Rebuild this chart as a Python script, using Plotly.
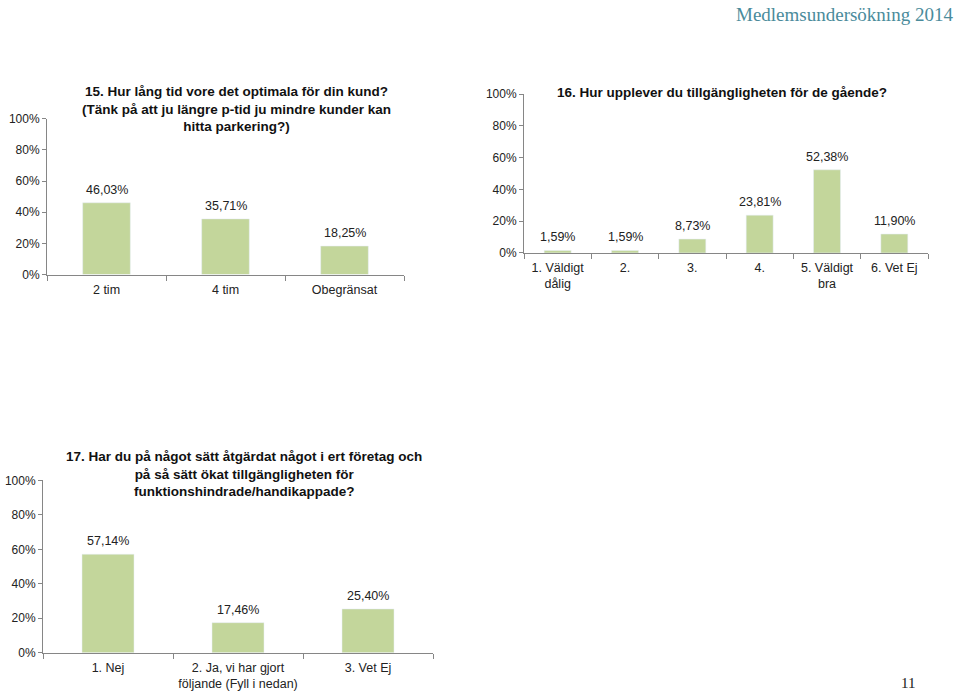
import plotly.graph_objects as go

W, H = 960, 698
BAR = "#c3d69b"
AXIS = "#868686"
FONT = "Liberation Sans, Arial, sans-serif"

# --- data
q15_title = "15. Hur lång tid vore det optimala för din kund?<br>(Tänk på att ju längre p-tid ju mindre kunder kan<br>hitta parkering?)"
q15_cats = ["2 tim", "4 tim", "Obegränsat"]
q15_vals = [46.03, 35.71, 18.25]

q16_title = "16. Hur upplever du tillgängligheten för de gående?"
q16_cats = ["1. Väldigt<br>dålig", "2.", "3.", "4.", "5. Väldigt<br>bra", "6. Vet Ej"]
q16_vals = [1.59, 1.59, 8.73, 23.81, 52.38, 11.90]

q17_title = "17. Har du på något sätt åtgärdat något i ert företag och<br>på så sätt ökat tillgängligheten för<br>funktionshindrade/handikappade?"
q17_cats = ["1. Nej", "2. Ja, vi har gjort<br>följande (Fyll i nedan)", "3. Vet Ej"]
q17_vals = [57.14, 17.46, 25.40]


def px_x(a, b):
    return [a / W, b / W]


def px_y(top, bottom):
    return [1 - bottom / H, 1 - top / H]


def pct(v):
    return f"{v:.2f}".replace(".", ",") + "%"


# pixel boxes of the plot areas: (left, right, top(100%), bottom(0%)) and title centre
panels = [
    (q15_title, q15_cats, q15_vals, (47, 404, 114, 273), (236, 104), 1),
    (q16_title, q16_cats, q16_vals, (524, 928, 89, 251), (722, 87), 2),
    (q17_title, q17_cats, q17_vals, (43, 433, 483, 659), (244, 477), 3),
]

fig = go.Figure()
layout = {}
for title, cats, vals, (l, r, t, b), (cx, cy), i in panels:
    sfx = "" if i == 1 else str(i)
    fig.add_trace(go.Bar(
        x=cats, y=vals, marker_color=BAR, width=0.4,
        xaxis="x" + sfx, yaxis="y" + sfx, hoverinfo="skip"))
    # value labels above the bars (category index, since "2." would parse as a number)
    for j, v in enumerate(vals):
        fig.add_annotation(x=j, y=v, xref="x" + sfx, yref="y" + sfx, text=pct(v),
                           showarrow=False, yanchor="bottom", yshift=4,
                           font=dict(size=12.5, color="#222"))
    fig.add_annotation(text="<b>" + title.replace("<br>", "</b><br><b>") + "</b>",
                       x=cx / W, y=1 - cy / H, xref="paper", yref="paper",
                       showarrow=False, font=dict(size=13.5, color="#111"),
                       xanchor="center", yanchor="middle")
    layout["xaxis" + sfx] = dict(
        domain=px_x(l, r), anchor="y" + sfx, type="category", fixedrange=True,
        showline=True, linecolor=AXIS, ticks="outside", tickson="boundaries",
        tickcolor=AXIS, ticklen=5, ticklabelstandoff=3,
        tickfont=dict(size=12.5, color="#222"))
    layout["yaxis" + sfx] = dict(
        domain=px_y(t, b), anchor="x" + sfx, range=[0, 100], dtick=20,
        ticksuffix="%", showgrid=False, zeroline=False, fixedrange=True,
        showline=True, linecolor=AXIS, ticks="outside", tickcolor=AXIS,
        ticklen=4, tickfont=dict(size=12, color="#222"))

fig.update_layout(**layout)

# page header and page number
fig.add_annotation(text="Medlemsundersökning 2014", x=955 / W, y=1 - 8 / H,
                   xref="paper", yref="paper", showarrow=False, xanchor="right",
                   yanchor="middle",
                   font=dict(family="Liberation Serif, serif", size=19, color="#4a8b9b"))
fig.add_annotation(text="11", x=908 / W, y=1 - 690 / H, xref="paper", yref="paper",
                   showarrow=False, xanchor="center", yanchor="middle",
                   font=dict(family="Liberation Serif, serif", size=15, color="#222"))

fig.update_layout(width=W, height=H, margin=dict(l=0, r=0, t=0, b=0),
                  plot_bgcolor="white", paper_bgcolor="white", showlegend=False,
                  font=dict(family=FONT, size=12, color="#222"))

fig.write_html("out.html", config={"displayModeBar": False},
               post_script="document.body.style.margin='0';")
